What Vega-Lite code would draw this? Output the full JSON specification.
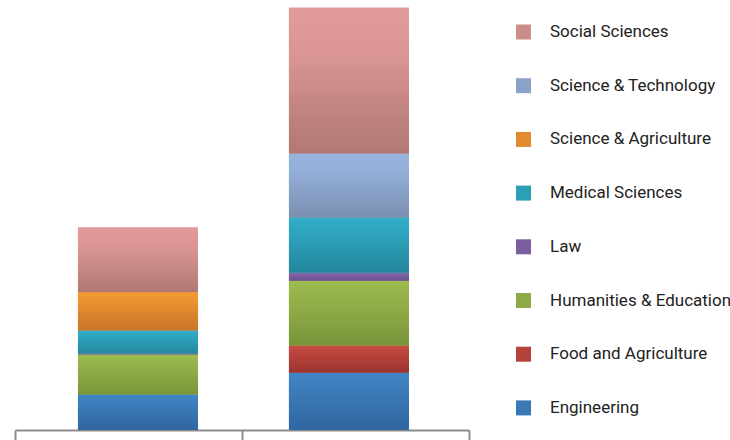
{
  "$schema": "https://vega.github.io/schema/vega-lite/v6.json",
  "width": 454,
  "height": 430,
  "padding": {"left": 15, "top": 0, "right": 261, "bottom": 10},
  "autosize": {"type": "none"},
  "background": "white",
  "config": {"view": {"stroke": null}, "font": "Roboto"},
  "data": {
    "values": [
      {"group": "Group 1", "category": "Engineering", "value": 35.5},
      {"group": "Group 1", "category": "Humanities & Education", "value": 40},
      {"group": "Group 1", "category": "Law", "value": 1},
      {"group": "Group 1", "category": "Medical Sciences", "value": 23},
      {"group": "Group 1", "category": "Science & Agriculture", "value": 38.3},
      {"group": "Group 1", "category": "Social Sciences", "value": 64.7},
      {"group": "Group 2", "category": "Engineering", "value": 57.3},
      {"group": "Group 2", "category": "Food and Agriculture", "value": 27.3},
      {"group": "Group 2", "category": "Humanities & Education", "value": 64.7},
      {"group": "Group 2", "category": "Law", "value": 8},
      {"group": "Group 2", "category": "Medical Sciences", "value": 55.3},
      {"group": "Group 2", "category": "Science & Technology", "value": 64},
      {"group": "Group 2", "category": "Social Sciences", "value": 145.7}
    ]
  },
  "layer": [
    {
      "mark": {"type": "bar"},
      "encoding": {
        "x": {
          "field": "group",
          "type": "nominal",
          "axis": null,
          "scale": {"paddingInner": 0.431, "paddingOuter": 0.2914, "align": 0.512}
        },
        "y": {
          "field": "value",
          "type": "quantitative",
          "stack": "zero",
          "axis": null,
          "scale": {"domain": [0, 430], "nice": false}
        },
        "color": {
          "field": "category",
          "type": "nominal",
          "scale": {
            "domain": ["Social Sciences", "Science & Technology", "Science & Agriculture", "Medical Sciences", "Law", "Humanities & Education", "Food and Agriculture", "Engineering"],
            "range": ["#CC8C89", "#8AA2C8", "#E48A2E", "#2C9EB6", "#7A5E9D", "#8DAA46", "#B4423A", "#3A78B6"]
          },
          "legend": {
            "orient": "none",
            "legendX": 500,
            "legendY": 23.5,
            "title": null,
            "symbolType": "square",
            "symbolSize": 225,
            "symbolStrokeWidth": 0,
            "labelFont": "Roboto",
            "labelFontSize": 17,
            "labelColor": "#222222",
            "labelOffset": 18,
            "labelLimit": 300,
            "rowPadding": 35.7
          }
        },
        "order": {"field": "category", "sort": "ascending"}
      }
    },
    {
      "mark": {"type": "bar"},
      "encoding": {
        "x": {
          "field": "group",
          "type": "nominal",
          "axis": null,
          "scale": {"paddingInner": 0.431, "paddingOuter": 0.2914, "align": 0.512}
        },
        "y": {
          "field": "value",
          "type": "quantitative",
          "stack": "zero",
          "axis": null
        },
        "fill": {
          "condition": [
            {"test": "datum.category === 'Social Sciences'", "value": {"gradient": "linear", "x1": 0, "y1": 0, "x2": 0, "y2": 1, "stops": [{"offset": 0, "color": "#E29B98"}, {"offset": 0.3, "color": "#DB9693"}, {"offset": 1, "color": "#B07874"}]}},
            {"test": "datum.category === 'Science & Technology'", "value": {"gradient": "linear", "x1": 0, "y1": 0, "x2": 0, "y2": 1, "stops": [{"offset": 0, "color": "#98B4DF"}, {"offset": 0.3, "color": "#93AED8"}, {"offset": 1, "color": "#7A8FB0"}]}},
            {"test": "datum.category === 'Science & Agriculture'", "value": {"gradient": "linear", "x1": 0, "y1": 0, "x2": 0, "y2": 1, "stops": [{"offset": 0, "color": "#F69A31"}, {"offset": 1, "color": "#C8752A"}]}},
            {"test": "datum.category === 'Medical Sciences'", "value": {"gradient": "linear", "x1": 0, "y1": 0, "x2": 0, "y2": 1, "stops": [{"offset": 0, "color": "#31AECA"}, {"offset": 1, "color": "#25879D"}]}},
            {"test": "datum.category === 'Law'", "value": {"gradient": "linear", "x1": 0, "y1": 0, "x2": 0, "y2": 1, "stops": [{"offset": 0, "color": "#8468AB"}, {"offset": 1, "color": "#6A508D"}]}},
            {"test": "datum.category === 'Humanities & Education'", "value": {"gradient": "linear", "x1": 0, "y1": 0, "x2": 0, "y2": 1, "stops": [{"offset": 0, "color": "#9FBC50"}, {"offset": 1, "color": "#79953A"}]}},
            {"test": "datum.category === 'Food and Agriculture'", "value": {"gradient": "linear", "x1": 0, "y1": 0, "x2": 0, "y2": 1, "stops": [{"offset": 0, "color": "#C84B40"}, {"offset": 1, "color": "#9A3330"}]}}
          ],
          "value": {"gradient": "linear", "x1": 0, "y1": 0, "x2": 0, "y2": 1, "stops": [{"offset": 0, "color": "#4285C5"}, {"offset": 1, "color": "#2F66A0"}]}
        },
        "order": {"field": "category", "sort": "ascending"}
      }
    },
    {
      "mark": {"type": "point", "opacity": 0},
      "encoding": {
        "x": {
          "field": "group",
          "type": "nominal",
          "scale": {"paddingInner": 0, "paddingOuter": 0},
          "axis": {
            "title": null,
            "labels": false,
            "grid": false,
            "tickBand": "extent",
            "domainColor": "#8C8C8C",
            "domainWidth": 2,
            "tickColor": "#8C8C8C",
            "tickWidth": 2,
            "tickSize": 12
          }
        }
      }
    }
  ],
  "resolve": {"scale": {"x": "independent"}, "axis": {"x": "independent"}}
}
